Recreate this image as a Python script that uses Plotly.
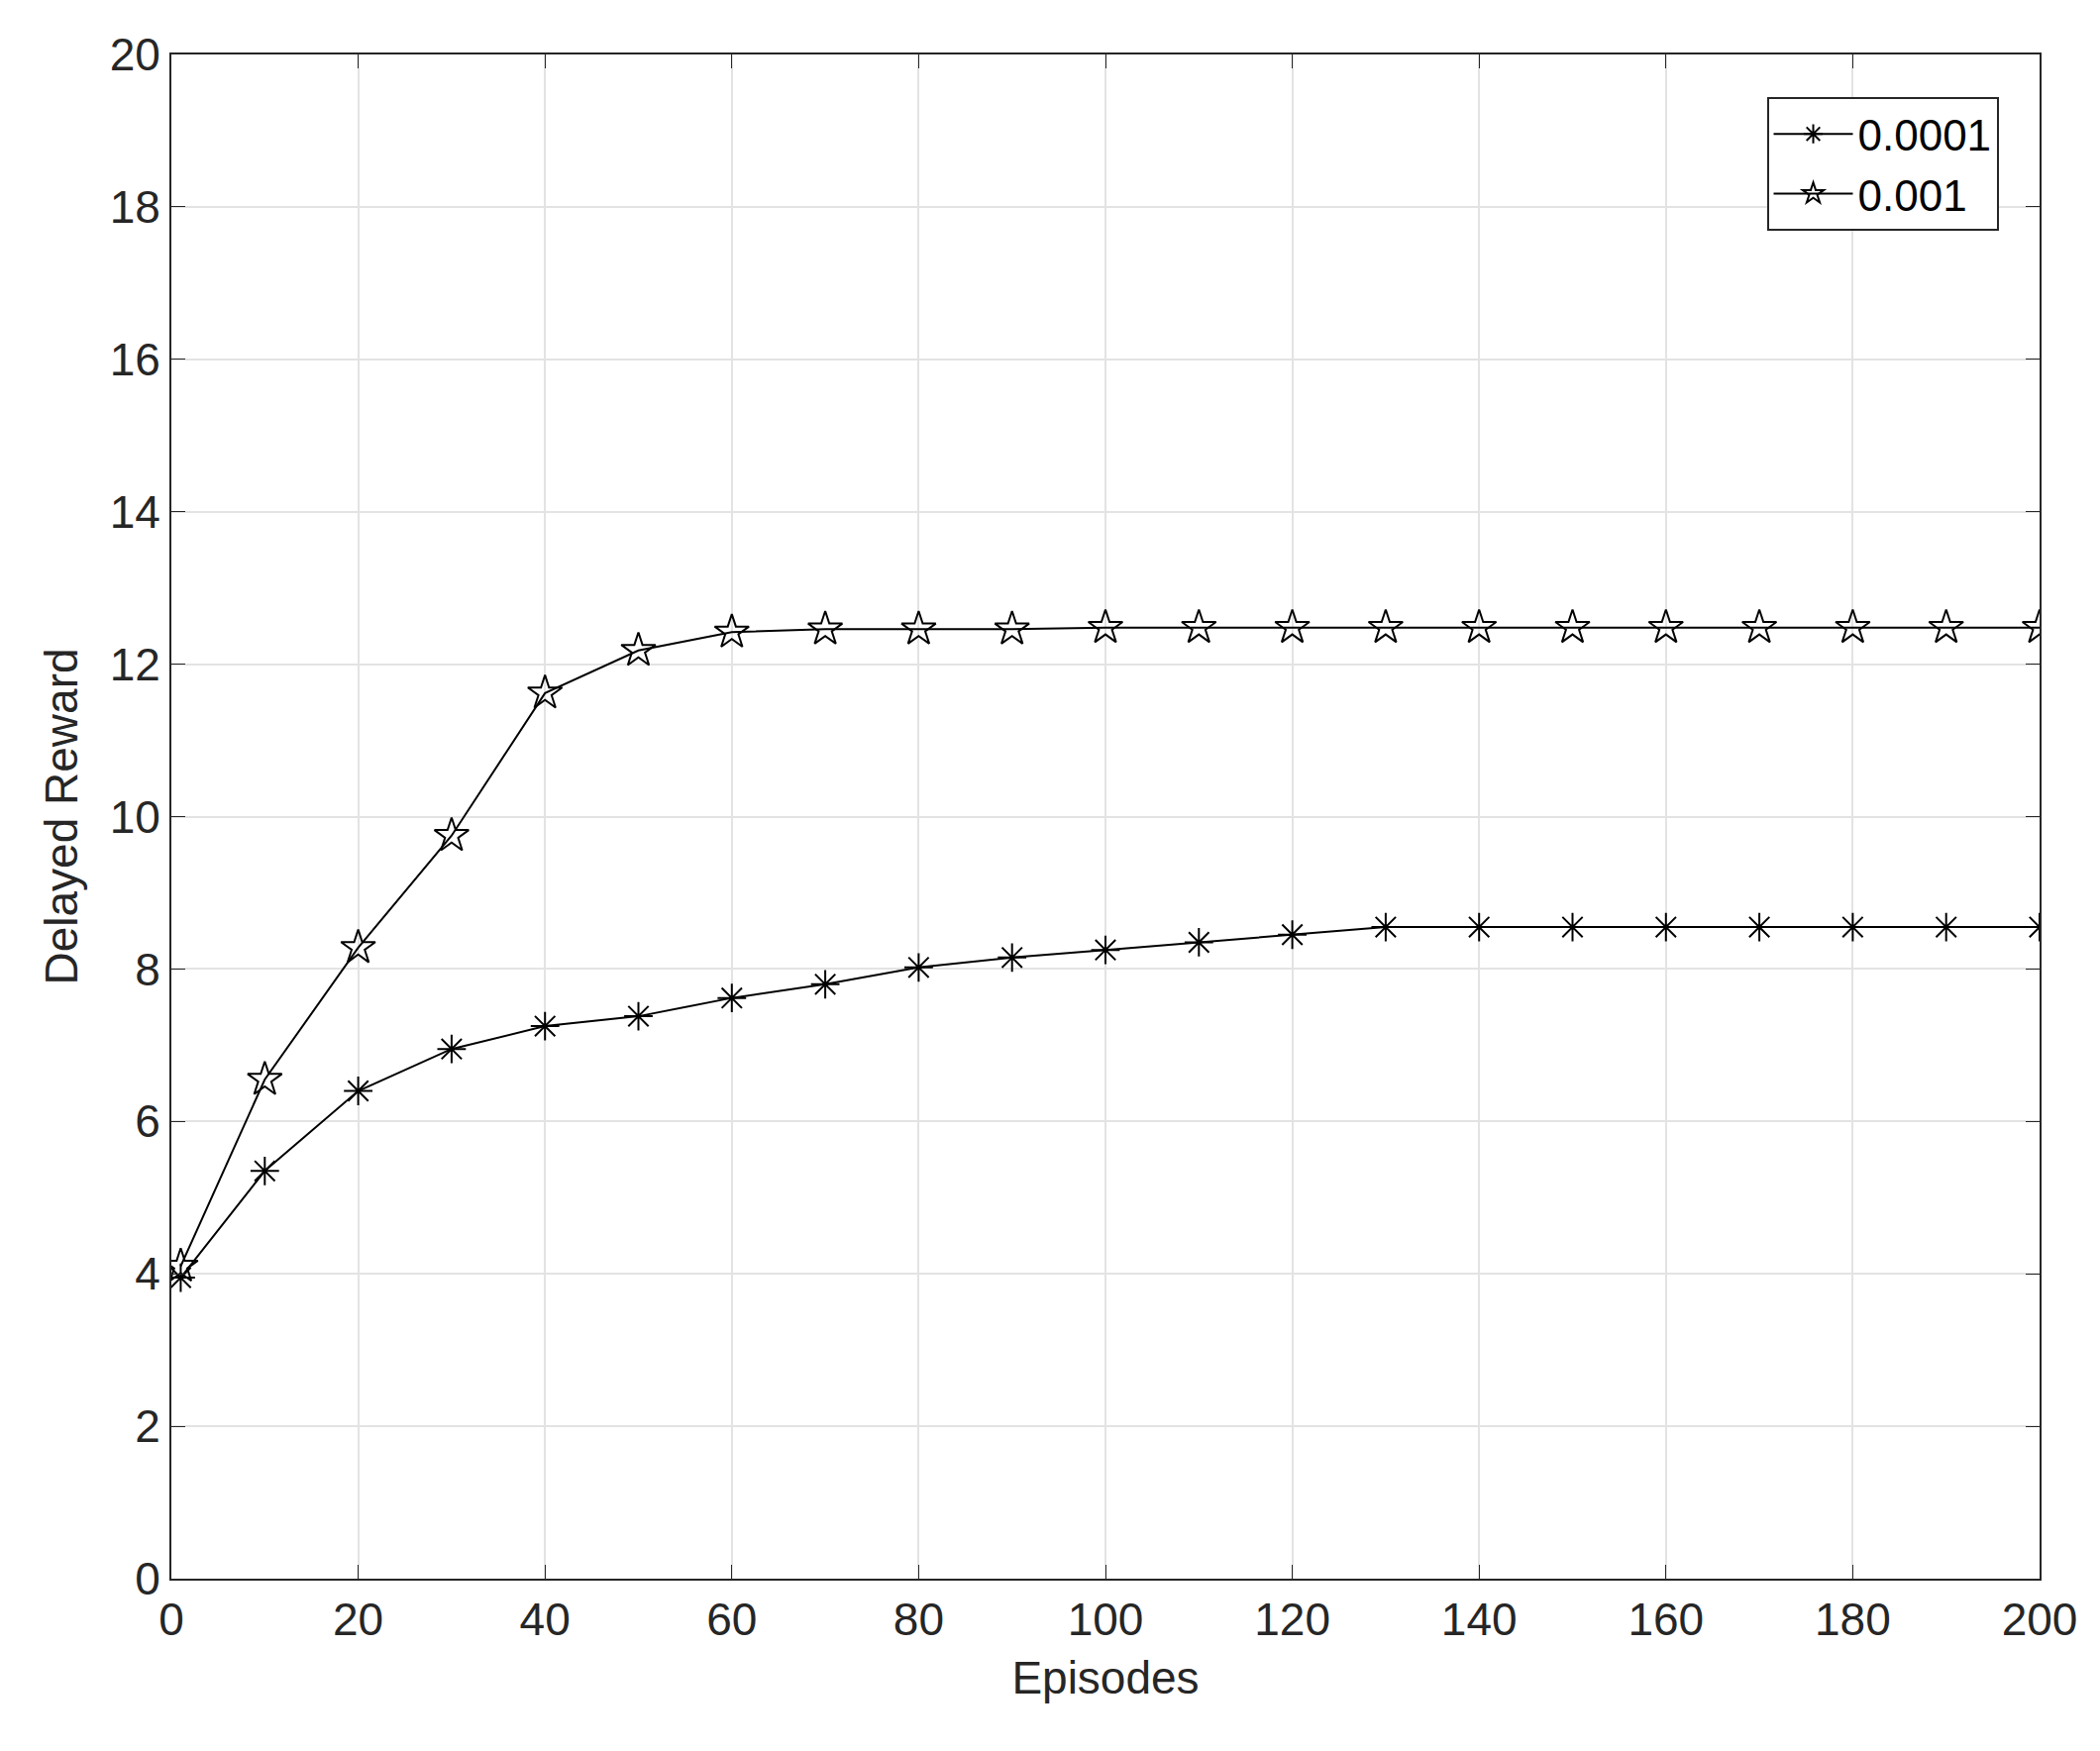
import plotly.graph_objects as go

episodes = [1, 10, 20, 30, 40, 50, 60, 70, 80, 90, 100, 110, 120, 130, 140, 150, 160, 170, 180, 190, 200]
lr_0001 = [3.95, 5.35, 6.4, 6.95, 7.25, 7.38, 7.62, 7.8, 8.02, 8.15, 8.25, 8.35, 8.45, 8.55, 8.55, 8.55, 8.55, 8.55, 8.55, 8.55, 8.55]
lr_001 = [4.1, 6.55, 8.28, 9.75, 11.62, 12.18, 12.42, 12.46, 12.46, 12.46, 12.48, 12.48, 12.48, 12.48, 12.48, 12.48, 12.48, 12.48, 12.48, 12.48, 12.48]

fig = go.Figure()
fig.add_trace(go.Scatter(x=episodes, y=lr_0001, name="0.0001", mode="lines+markers",
                         line=dict(color="black", width=2),
                         marker=dict(symbol="asterisk-open", size=24, color="black", line=dict(width=2, color="black"))))
fig.add_trace(go.Scatter(x=episodes, y=lr_001, name="0.001", mode="lines+markers",
                         line=dict(color="black", width=2),
                         marker=dict(symbol="star-open", size=26, color="black", line=dict(width=2, color="black"))))

axis = dict(showline=True, linecolor="#262626", linewidth=2, mirror="ticks", ticks="inside", ticklen=14,
            tickcolor="#262626", showgrid=True, gridcolor="#e3e3e3", gridwidth=2, zeroline=False,
            tickfont=dict(size=46, color="#262626"), title_font=dict(size=46, color="#262626"))
fig.update_xaxes(axis, range=[0, 200], dtick=20, title_text="Episodes", title_standoff=18)
fig.update_yaxes(axis, range=[0, 20], dtick=2, title_text="Delayed Reward", title_standoff=18)
fig.update_layout(width=2120, height=1768, margin=dict(l=165, r=69, t=47, b=182),
                  plot_bgcolor="white", paper_bgcolor="white",
                  font=dict(family="Liberation Sans, Arial, sans-serif", color="#262626"),
                  legend=dict(x=0.978, y=0.972, xanchor="right", yanchor="top", bgcolor="white",
                              bordercolor="#262626", borderwidth=2, font=dict(size=44, color="black"),
                              itemwidth=80))
fig.write_html("out.html")
